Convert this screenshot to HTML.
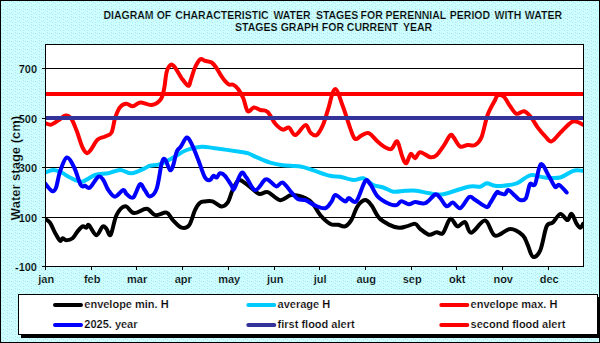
<!DOCTYPE html>
<html><head><meta charset="utf-8"><title>Water stages diagram</title>
<style>
html,body{margin:0;padding:0;width:600px;height:343px;overflow:hidden;background:#CCFFFF}
svg{display:block}
text{font-family:"Liberation Sans",sans-serif;font-weight:bold;fill:#000;white-space:pre;stroke:#CCFFFF;stroke-width:0.2px}
.lg text{stroke:#fff}
</style></head><body>
<svg width="600" height="343" viewBox="0 0 600 343">
<defs>
<pattern id="dots" width="8" height="8" patternUnits="userSpaceOnUse"><rect width="8" height="8" fill="#CCFFFF"/><rect x="1" y="1" width="1" height="1" fill="#B6E2EE"/><rect x="3" y="1" width="1" height="1" fill="#B6E2EE"/><rect x="5" y="2" width="1" height="1" fill="#B6E2EE"/><rect x="7" y="0" width="1" height="1" fill="#B6E2EE"/><rect x="7" y="3" width="1" height="1" fill="#B6E2EE"/><rect x="3" y="4" width="1" height="1" fill="#B6E2EE"/><rect x="1" y="5" width="1" height="1" fill="#B6E2EE"/><rect x="4" y="6" width="1" height="1" fill="#B6E2EE"/><rect x="7" y="6" width="1" height="1" fill="#B6E2EE"/></pattern>
<clipPath id="pc"><rect x="46" y="45" width="537" height="221"/></clipPath>
</defs>
<rect x="0" y="0" width="600" height="343" fill="url(#dots)"/>
<rect x="0.5" y="0.5" width="599" height="342" fill="none" stroke="#000" stroke-width="1"/>
<g font-size="10.5" text-anchor="middle"><text x="128.5" y="19">DIAGRAM</text><text x="164" y="19">OF</text><text x="222" y="19">CHARACTERISTIC</text><text x="292" y="19">WATER</text><text x="337.1" y="19">STAGES</text><text x="371.7" y="19">FOR</text><text x="415.9" y="19">PERENNIAL</text><text x="470" y="19">PERIOD</text><text x="507.9" y="19">WITH</text><text x="543.4" y="19">WATER</text><text x="256.3" y="31">STAGES</text><text x="299.6" y="31">GRAPH</text><text x="332.9" y="31">FOR</text><text x="372.5" y="31">CURRENT</text><text x="417.5" y="31">YEAR</text></g>
<rect x="45.5" y="44.5" width="538" height="222" fill="#fff" stroke="none"/>

<line x1="45" y1="68.5" x2="584" y2="68.5" stroke="#000" stroke-width="1"/>
<line x1="45" y1="118.5" x2="584" y2="118.5" stroke="#000" stroke-width="1"/>
<line x1="45" y1="167.5" x2="584" y2="167.5" stroke="#000" stroke-width="1"/>
<line x1="45" y1="217.5" x2="584" y2="217.5" stroke="#000" stroke-width="1"/>
<g clip-path="url(#pc)" fill="none" stroke-linejoin="round" stroke-linecap="round">
<path d="M45.0,218.9 C45.8,219.5 48.3,220.3 50.0,222.6 C51.7,224.9 53.3,229.7 55.0,232.7 C56.7,235.7 58.7,239.8 60.0,240.7 C61.3,241.6 61.6,238.3 62.6,238.2 C63.6,238.1 64.6,240.2 66.3,240.2 C68.0,240.2 70.7,239.7 72.6,238.2 C74.5,236.7 75.9,233.4 77.6,231.4 C79.3,229.4 81.1,227.0 82.6,226.4 C84.1,225.8 85.4,227.9 86.4,227.7 C87.5,227.5 87.2,223.8 88.9,225.1 C90.6,226.3 94.1,235.0 96.4,235.2 C98.7,235.4 101.0,227.4 102.7,226.4 C104.4,225.4 105.2,227.5 106.5,228.9 C107.8,230.3 109.0,237.0 110.7,234.7 C112.4,232.4 114.1,219.8 116.5,215.1 C118.9,210.4 122.4,206.6 125.3,206.3 C128.2,206.0 130.4,212.7 134.0,213.1 C137.6,213.5 143.0,208.5 146.6,208.8 C150.2,209.1 152.1,214.5 155.4,215.1 C158.7,215.7 163.7,211.8 166.6,212.6 C169.5,213.4 170.4,217.6 172.9,220.1 C175.4,222.6 179.0,226.9 181.7,227.7 C184.4,228.5 187.0,228.0 189.2,225.1 C191.4,222.2 193.2,213.8 195.0,210.1 C196.8,206.4 198.3,204.1 200.0,202.7 C201.7,201.2 202.9,201.6 205.0,201.4 C207.1,201.2 209.9,200.6 212.6,201.4 C215.3,202.2 218.8,206.2 221.3,206.4 C223.8,206.6 225.7,205.4 227.6,202.7 C229.5,200.0 230.7,193.9 232.6,190.1 C234.5,186.3 236.4,180.9 238.9,180.1 C241.4,179.3 244.3,182.8 247.7,185.1 C251.0,187.4 255.7,192.7 259.0,193.9 C262.3,195.1 264.1,191.1 267.7,192.1 C271.2,193.1 276.3,199.7 280.3,200.2 C284.3,200.7 287.4,195.4 291.6,195.1 C295.8,194.8 301.8,196.7 305.4,198.2 C308.9,199.7 310.4,201.1 312.9,203.9 C315.4,206.7 317.5,211.8 320.4,215.2 C323.3,218.5 327.5,222.4 330.4,224.0 C333.3,225.6 335.6,224.3 338.0,224.7 C340.4,225.1 342.8,227.2 345.0,226.4 C347.2,225.6 349.2,223.4 351.3,220.1 C353.4,216.8 355.2,209.6 357.5,206.3 C359.8,203.0 362.8,200.3 365.1,200.1 C367.4,199.9 369.0,202.2 371.3,205.1 C373.6,208.0 376.0,214.3 378.9,217.6 C381.8,220.8 385.6,222.9 388.9,224.6 C392.2,226.3 396.0,227.4 398.9,227.7 C401.8,228.0 403.7,227.0 406.4,226.4 C409.1,225.8 412.9,223.5 415.2,223.9 C417.5,224.3 417.9,227.1 420.2,228.9 C422.5,230.7 426.3,234.1 429.0,234.7 C431.7,235.2 434.2,232.4 436.5,232.2 C438.8,231.9 440.5,235.4 442.8,233.2 C445.1,231.0 447.9,220.0 450.3,218.9 C452.8,217.8 455.1,225.9 457.5,226.4 C459.9,226.9 462.7,221.1 465.0,222.1 C467.3,223.1 467.9,232.9 471.3,232.7 C474.7,232.4 481.1,220.1 485.1,220.6 C489.1,221.1 490.9,234.3 495.1,235.7 C499.3,237.1 505.6,229.0 510.2,228.9 C514.8,228.8 519.8,232.5 522.7,235.2 C525.6,237.9 526.1,241.6 527.8,245.2 C529.5,248.8 530.9,256.0 533.0,256.8 C535.1,257.6 538.0,255.3 540.3,250.2 C542.6,245.1 544.5,231.0 546.6,226.4 C548.7,221.8 550.5,224.7 552.8,222.6 C555.1,220.5 558.0,214.3 560.4,213.9 C562.8,213.5 565.5,220.1 567.4,220.1 C569.3,220.1 570.0,213.3 571.6,213.9 C573.2,214.5 575.2,221.6 576.7,223.9 C578.2,226.2 579.4,227.7 580.4,227.7 C581.4,227.7 582.6,224.5 583.0,223.9" stroke="#000000" stroke-width="4"/>
<path d="M45.0,172.5 C46.4,172.1 50.5,170.0 53.3,170.0 C56.1,170.0 58.9,171.2 61.7,172.5 C64.5,173.8 66.7,176.0 70.0,177.5 C73.3,179.0 77.5,182.1 81.7,181.7 C85.9,181.3 90.6,176.4 95.0,175.0 C99.4,173.6 104.1,174.1 108.3,173.3 C112.5,172.5 116.1,170.0 120.0,170.0 C123.9,170.0 127.6,173.6 131.7,173.3 C135.8,173.0 141.6,169.6 144.7,168.3 C147.8,167.1 147.4,166.5 150.0,165.8 C152.6,165.1 156.1,165.6 160.0,164.2 C163.9,162.8 168.9,159.9 173.3,157.5 C177.8,155.1 182.0,151.8 186.7,150.0 C191.4,148.2 197.0,147.0 201.7,146.7 C206.4,146.4 208.7,147.5 215.0,148.3 C221.3,149.1 234.2,150.9 239.7,151.7 C245.1,152.5 244.7,152.2 247.7,153.2 C250.7,154.2 253.9,156.1 257.7,157.7 C261.4,159.3 266.0,161.4 270.2,162.7 C274.4,163.9 277.8,164.6 282.8,165.2 C287.8,165.8 295.3,165.7 300.3,166.5 C305.3,167.3 307.9,168.6 312.9,170.2 C317.8,171.8 325.5,174.7 330.0,175.8 C334.5,176.9 336.1,176.0 340.0,176.7 C343.9,177.4 349.4,179.7 353.3,180.0 C357.2,180.3 360.0,177.5 363.3,178.3 C366.6,179.1 370.0,183.5 373.3,185.0 C376.6,186.5 380.0,186.4 383.3,187.5 C386.6,188.6 389.7,191.1 393.3,191.7 C396.9,192.2 401.1,191.0 405.0,190.8 C408.9,190.7 412.6,190.4 416.7,190.8 C420.8,191.2 425.3,192.7 429.7,193.3 C434.1,193.9 436.9,195.3 443.3,194.2 C449.7,193.1 462.2,187.9 468.3,186.7 C474.4,185.4 476.9,187.3 480.0,186.7 C483.1,186.1 484.2,183.5 486.7,183.3 C489.2,183.2 492.2,185.4 495.0,185.8 C497.8,186.2 499.7,186.2 503.3,185.8 C506.9,185.4 513.1,184.6 516.7,183.3 C520.3,182.1 522.2,179.7 524.7,178.3 C527.2,176.9 528.3,175.1 531.7,175.0 C535.1,174.9 540.3,177.1 545.0,177.5 C549.7,177.9 555.3,178.6 560.0,177.5 C564.7,176.4 569.5,171.9 573.3,170.8 C577.1,169.7 581.4,170.8 583.0,170.8" stroke="#00CCFF" stroke-width="4"/>
<path d="M45.0,123.1 C46.0,123.3 49.0,125.1 51.3,124.6 C53.6,124.1 56.4,121.5 58.8,120.0 C61.2,118.5 63.5,115.8 65.6,115.6 C67.7,115.4 69.5,116.4 71.3,118.8 C73.1,121.2 74.5,125.3 76.4,130.1 C78.3,134.9 80.8,143.8 82.6,147.7 C84.4,151.5 85.6,153.0 87.1,153.2 C88.6,153.4 89.6,151.2 91.4,148.9 C93.2,146.6 95.4,141.7 97.7,139.6 C100.0,137.5 102.9,137.6 105.2,136.4 C107.5,135.2 109.8,135.7 111.5,132.6 C113.2,129.5 113.8,121.9 115.2,117.6 C116.7,113.3 118.3,109.3 120.2,107.0 C122.1,104.7 124.4,103.9 126.5,103.8 C128.6,103.7 130.5,106.5 132.8,106.3 C135.1,106.1 137.2,102.7 140.3,102.5 C143.4,102.3 148.2,105.5 151.6,105.0 C155.0,104.5 158.7,102.0 160.8,99.2 C162.9,96.4 163.2,92.9 164.2,88.3 C165.2,83.7 165.6,75.6 166.7,71.7 C167.8,67.8 169.4,65.4 170.8,64.7 C172.2,64.0 173.2,65.2 175.0,67.5 C176.8,69.8 179.5,75.2 181.7,78.3 C183.9,81.3 186.8,85.5 188.3,85.8 C189.8,86.1 189.7,83.0 190.8,80.0 C191.9,77.0 193.4,71.0 195.0,67.5 C196.6,64.0 198.6,60.3 200.3,59.2 C202.0,58.1 203.1,60.2 205.0,60.8 C206.9,61.3 209.8,61.2 211.7,62.5 C213.6,63.8 215.0,65.9 216.7,68.3 C218.4,70.7 219.8,74.0 221.7,76.7 C223.6,79.4 226.4,82.9 228.3,84.2 C230.2,85.5 231.6,83.9 233.3,84.7 C235.0,85.5 236.6,86.9 238.3,89.2 C240.0,91.5 241.7,94.6 243.3,98.3 C244.9,102.0 245.9,109.7 247.7,111.2 C249.5,112.7 251.8,107.7 253.9,107.5 C256.0,107.3 257.9,109.2 260.2,110.0 C262.5,110.8 265.2,109.7 267.7,112.0 C270.2,114.3 272.8,120.9 275.3,123.8 C277.8,126.7 280.5,129.0 282.8,129.6 C285.1,130.2 287.0,126.7 289.1,127.6 C291.2,128.5 292.6,135.5 295.3,135.1 C298.0,134.7 302.9,125.5 305.4,125.1 C307.9,124.7 308.5,130.9 310.4,132.6 C312.3,134.3 314.5,136.3 316.6,135.1 C318.7,133.8 321.0,129.3 322.9,125.1 C324.8,120.9 325.9,116.0 327.9,110.0 C329.9,104.0 332.5,89.6 335.0,89.1 C337.5,88.5 340.5,100.3 343.0,106.7 C345.5,113.1 348.0,122.2 350.0,127.6 C352.0,133.0 353.1,137.6 355.0,138.9 C356.9,140.2 359.0,136.6 361.3,135.6 C363.6,134.6 366.1,132.1 368.8,133.1 C371.5,134.1 374.9,139.1 377.6,141.4 C380.3,143.8 382.8,145.9 385.1,147.2 C387.4,148.4 389.5,149.9 391.4,148.9 C393.3,147.9 395.1,142.0 396.4,141.4 C397.6,140.8 397.8,142.4 398.9,145.1 C399.9,147.8 401.4,154.7 402.7,157.7 C403.9,160.7 405.1,163.8 406.4,163.2 C407.7,162.6 409.2,154.7 410.7,153.9 C412.2,153.1 413.6,158.5 415.2,158.2 C416.8,157.9 417.7,152.4 420.2,152.2 C422.7,152.0 427.6,156.7 430.3,157.2 C433.0,157.7 434.2,157.2 436.5,155.2 C438.8,153.2 441.8,148.4 444.1,145.1 C446.4,141.8 448.7,136.3 450.3,135.1 C451.9,133.8 452.2,135.7 453.8,137.6 C455.4,139.5 457.7,145.2 460.0,146.4 C462.3,147.7 465.1,145.3 467.6,145.1 C470.1,144.9 472.8,146.3 475.1,145.1 C477.4,143.8 479.3,142.6 481.4,137.6 C483.5,132.6 485.3,121.3 487.6,115.0 C489.9,108.7 493.4,103.3 495.1,100.0 C496.8,96.7 496.2,96.0 497.7,95.4 C499.2,94.9 501.8,94.9 503.9,96.7 C506.0,98.5 508.1,103.5 510.2,106.3 C512.3,109.1 514.2,113.0 516.5,113.8 C518.8,114.6 521.7,110.9 524.0,111.3 C526.3,111.7 528.0,113.6 530.3,116.3 C532.6,119.0 535.3,124.2 537.8,127.6 C540.3,130.9 543.0,134.1 545.3,136.4 C547.6,138.7 549.1,142.0 551.6,141.4 C554.1,140.8 557.7,135.3 560.4,132.6 C563.1,129.9 565.6,127.0 567.9,125.1 C570.2,123.2 571.7,121.4 574.2,121.3 C576.7,121.2 581.5,124.0 582.9,124.6" stroke="#FF0000" stroke-width="4"/>
<path d="M45.0,183.3 C46.1,184.6 49.9,190.0 51.7,190.8 C53.5,191.6 54.4,191.5 55.8,188.3 C57.2,185.1 58.2,176.8 60.0,171.7 C61.8,166.6 64.3,158.2 66.7,157.5 C69.1,156.8 71.9,162.9 74.2,167.5 C76.5,172.1 79.0,181.9 80.8,185.0 C82.6,188.1 83.5,185.4 85.0,185.8 C86.5,186.2 87.8,189.0 90.0,187.5 C92.2,186.0 96.1,177.9 98.3,176.7 C100.5,175.4 101.6,177.8 103.3,180.0 C105.0,182.2 106.3,187.2 108.3,190.0 C110.2,192.8 112.5,196.7 115.0,196.7 C117.5,196.7 121.3,190.4 123.3,190.0 C125.2,189.6 125.0,192.9 126.7,194.2 C128.4,195.4 131.1,199.2 133.3,197.5 C135.5,195.8 138.1,185.4 140.0,184.2 C141.9,182.9 143.1,188.0 144.7,190.0 C146.3,192.0 147.8,196.6 149.8,196.4 C151.8,196.2 154.6,194.4 156.6,188.9 C158.6,183.4 160.3,168.2 161.7,163.3 C163.1,158.4 163.6,158.1 165.0,159.2 C166.4,160.3 168.6,169.0 170.0,170.0 C171.4,171.0 172.2,168.1 173.3,165.0 C174.4,161.9 175.4,154.8 176.7,151.7 C177.9,148.6 179.1,149.1 180.8,146.7 C182.5,144.3 184.9,137.9 186.7,137.5 C188.5,137.1 189.8,140.4 191.7,144.2 C193.6,147.9 196.1,154.4 198.3,160.0 C200.5,165.6 203.1,174.2 205.0,177.5 C206.9,180.8 208.6,180.3 210.0,180.0 C211.4,179.7 212.2,176.2 213.3,175.8 C214.4,175.4 215.6,177.9 216.7,177.5 C217.8,177.1 218.6,173.6 220.0,173.3 C221.4,173.0 223.1,173.7 225.0,175.8 C226.9,177.9 230.2,183.6 231.7,185.8 C233.2,188.0 232.4,191.1 234.0,189.0 C235.6,186.9 239.3,175.0 241.4,173.1 C243.5,171.2 244.1,174.8 246.4,177.6 C248.7,180.4 252.1,189.8 255.2,190.1 C258.3,190.4 262.7,181.0 265.2,179.6 C267.7,178.2 268.3,180.3 270.2,181.4 C272.1,182.5 274.4,186.2 276.5,186.4 C278.6,186.6 280.3,181.6 282.8,182.6 C285.3,183.6 289.1,189.9 291.6,192.6 C294.1,195.3 295.5,197.6 297.8,198.9 C300.1,200.2 302.5,199.1 305.4,200.2 C308.3,201.3 312.1,204.4 315.4,205.7 C318.7,207.0 322.7,208.9 325.4,208.2 C328.1,207.5 330.0,203.6 331.7,201.4 C333.4,199.2 333.3,195.1 335.5,195.1 C337.7,195.1 342.8,200.9 345.0,201.4 C347.2,201.9 346.9,198.1 348.8,198.1 C350.7,198.1 353.6,204.1 356.3,201.3 C359.0,198.5 362.8,184.2 365.1,181.3 C367.4,178.4 368.0,181.4 370.1,183.9 C372.2,186.4 374.5,193.0 377.6,196.3 C380.7,199.6 385.8,202.3 388.9,203.8 C392.0,205.3 394.3,205.5 396.4,205.1 C398.5,204.7 399.3,201.4 401.4,201.3 C403.5,201.2 406.7,204.2 409.0,204.3 C411.3,204.4 412.5,202.3 415.2,202.1 C417.9,201.9 421.9,204.4 425.3,203.1 C428.7,201.8 432.8,195.3 435.3,194.5 C437.8,193.7 438.4,196.1 440.3,198.1 C442.2,200.1 444.5,205.6 446.6,206.3 C448.7,207.1 450.5,202.3 452.8,202.6 C455.1,202.9 457.7,209.0 460.4,208.1 C463.1,207.2 466.7,198.4 469.2,197.1 C471.7,195.8 472.5,198.4 475.4,200.1 C478.3,201.8 484.3,206.6 486.7,207.1 C489.1,207.6 488.3,205.7 490.0,203.3 C491.7,200.9 495.0,194.2 496.7,192.5 C498.4,190.8 498.6,193.0 500.0,193.3 C501.4,193.6 503.6,194.8 505.0,194.2 C506.4,193.6 506.6,189.7 508.3,190.0 C510.0,190.3 513.0,194.1 515.0,195.8 C517.0,197.5 518.2,199.6 520.0,200.0 C521.8,200.4 524.1,200.9 525.8,198.3 C527.5,195.7 528.5,186.5 530.0,184.2 C531.5,181.8 533.2,187.5 535.0,184.2 C536.8,180.9 538.6,165.7 540.8,164.2 C543.0,162.7 545.9,171.2 548.3,175.0 C550.7,178.8 553.2,185.0 555.0,186.7 C556.8,188.4 557.2,184.0 559.2,185.0 C561.2,186.0 565.5,191.2 566.7,192.5" stroke="#0000FF" stroke-width="4"/>
<line x1="40" y1="118" x2="590" y2="118" stroke="#333399" stroke-width="4"/>
<line x1="40" y1="94" x2="590" y2="94" stroke="#FF0000" stroke-width="4"/>
</g>
<rect x="45.5" y="44.5" width="538" height="222" fill="none" stroke="#000" stroke-width="1"/>
<line x1="42" y1="68.5" x2="45" y2="68.5" stroke="#000" stroke-width="1"/>
<text x="37" y="73" text-anchor="end" font-size="11">700</text>
<line x1="42" y1="118.5" x2="45" y2="118.5" stroke="#000" stroke-width="1"/>
<text x="37" y="123" text-anchor="end" font-size="11">500</text>
<line x1="42" y1="167.5" x2="45" y2="167.5" stroke="#000" stroke-width="1"/>
<text x="37" y="172" text-anchor="end" font-size="11">300</text>
<line x1="42" y1="217.5" x2="45" y2="217.5" stroke="#000" stroke-width="1"/>
<text x="37" y="222" text-anchor="end" font-size="11">100</text>
<line x1="42" y1="266.5" x2="45" y2="266.5" stroke="#000" stroke-width="1"/>
<text x="37" y="271" text-anchor="end" font-size="11">-100</text>
<line x1="45.5" y1="266" x2="45.5" y2="270" stroke="#000" stroke-width="1"/>
<text x="46.2" y="283" text-anchor="middle" font-size="11">jan</text>
<line x1="91.5" y1="266" x2="91.5" y2="270" stroke="#000" stroke-width="1"/>
<text x="92.2" y="283" text-anchor="middle" font-size="11">feb</text>
<line x1="136.5" y1="266" x2="136.5" y2="270" stroke="#000" stroke-width="1"/>
<text x="137.2" y="283" text-anchor="middle" font-size="11">mar</text>
<line x1="182.5" y1="266" x2="182.5" y2="270" stroke="#000" stroke-width="1"/>
<text x="183.2" y="283" text-anchor="middle" font-size="11">apr</text>
<line x1="228.5" y1="266" x2="228.5" y2="270" stroke="#000" stroke-width="1"/>
<text x="229.2" y="283" text-anchor="middle" font-size="11">may</text>
<line x1="274.5" y1="266" x2="274.5" y2="270" stroke="#000" stroke-width="1"/>
<text x="275.2" y="283" text-anchor="middle" font-size="11">jun</text>
<line x1="319.5" y1="266" x2="319.5" y2="270" stroke="#000" stroke-width="1"/>
<text x="320.2" y="283" text-anchor="middle" font-size="11">jul</text>
<line x1="365.5" y1="266" x2="365.5" y2="270" stroke="#000" stroke-width="1"/>
<text x="366.2" y="283" text-anchor="middle" font-size="11">aug</text>
<line x1="411.5" y1="266" x2="411.5" y2="270" stroke="#000" stroke-width="1"/>
<text x="412.2" y="283" text-anchor="middle" font-size="11">sep</text>
<line x1="456.5" y1="266" x2="456.5" y2="270" stroke="#000" stroke-width="1"/>
<text x="457.2" y="283" text-anchor="middle" font-size="11">okt</text>
<line x1="502.5" y1="266" x2="502.5" y2="270" stroke="#000" stroke-width="1"/>
<text x="503.2" y="283" text-anchor="middle" font-size="11">nov</text>
<line x1="548.5" y1="266" x2="548.5" y2="270" stroke="#000" stroke-width="1"/>
<text x="549.2" y="283" text-anchor="middle" font-size="11">dec</text>
<text transform="translate(19.5,168) rotate(-90)" text-anchor="middle" font-size="13">Water stage (cm)</text>
<rect x="21" y="297" width="580" height="41" fill="#000"/>
<rect x="18.5" y="294.5" width="579" height="40" fill="#fff" stroke="#000" stroke-width="1"/>
<g class="lg">
<line x1="55" y1="305" x2="81" y2="305" stroke="#000000" stroke-width="4" stroke-linecap="round"/>
<text x="84.3" y="308" font-size="11">envelope min. H</text>
<line x1="248.3" y1="305" x2="274.3" y2="305" stroke="#00CCFF" stroke-width="4" stroke-linecap="round"/>
<text x="277.6" y="308" font-size="11">average H</text>
<line x1="441.3" y1="305" x2="467.3" y2="305" stroke="#FF0000" stroke-width="4" stroke-linecap="round"/>
<text x="470.6" y="308" font-size="11">envelope max. H</text>
<line x1="55" y1="325" x2="81" y2="325" stroke="#0000FF" stroke-width="4" stroke-linecap="round"/>
<text x="84.3" y="328" font-size="11">2025. year</text>
<line x1="248.3" y1="325" x2="274.3" y2="325" stroke="#333399" stroke-width="4" stroke-linecap="round"/>
<text x="277.6" y="328" font-size="11">first flood alert</text>
<line x1="441.3" y1="325" x2="467.3" y2="325" stroke="#FF0000" stroke-width="4" stroke-linecap="round"/>
<text x="470.6" y="328" font-size="11">second flood alert</text>
</g>
</svg>
</body></html>
